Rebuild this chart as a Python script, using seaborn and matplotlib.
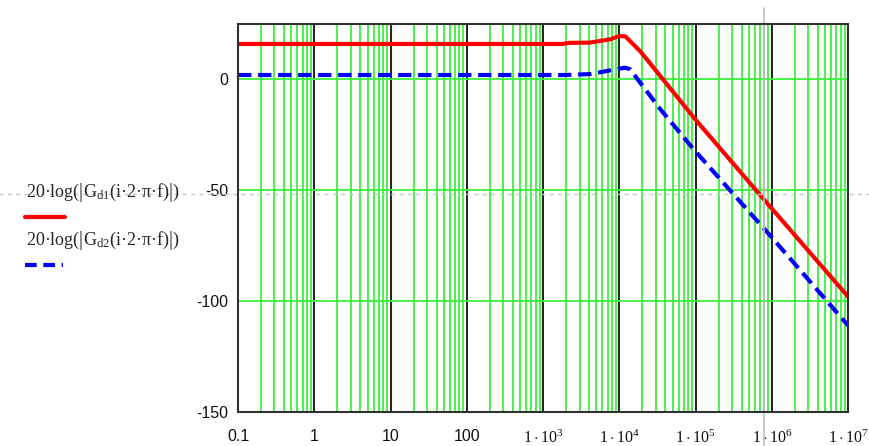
#!/usr/bin/env python3

# Bode magnitude plot of Gd1 and Gd2, Mathcad look.

import matplotlib
matplotlib.use("Agg")
import matplotlib.pyplot as plt
from matplotlib.lines import Line2D
import numpy as np
import pandas as pd
import seaborn as sns

# {{{ data
freq_d1 = [0.1, 1.8e3, 2.2e3, 4.1e3, 7.6e3, 1e4, 1.2e4, 1.9e4, 1e5, 1e6, 1e7]
mag_d1 = [16, 16, 16.5, 16.6, 18.1, 19.6, 19.4, 12.5, -18.2, -58.3, -98]

freq_d2 = [0.1, 2e3, 4.1e3, 7.6e3, 1.19e4, 1.38e4, 1.87e4, 3.42e4, 9.3e4, 1e6, 1e7]
mag_d2 = [2, 2, 2.4, 4.1, 5.3, 4.6, -1.4, -13.3, -31.3, -71.3, -111]

xticks = [0.1, 1, 10, 100, 1e3, 1e4, 1e5, 1e6, 1e7]
xticklabels = ["0.1", "1", "10", "100",
               r"$1\cdot10^{3}$", r"$1\cdot10^{4}$", r"$1\cdot10^{5}$",
               r"$1\cdot10^{6}$", r"$1\cdot10^{7}$"]
yticks = [-150, -100, -50, 0]
yticklabels = ["-150", "-100", "-50", "0"]

label_d1 = r"$\mathrm{20·log}\left(\left|\mathrm{G_{d1}(i·2·π·f)}\right|\right)$"
label_d2 = r"$\mathrm{20·log}\left(\left|\mathrm{G_{d2}(i·2·π·f)}\right|\right)$"

cursor_x = 7.9e5
cursor_y = -51.5
# }}}

sns.set_style("white")
plt.rcParams["font.family"] = ["Liberation Sans", "DejaVu Sans"]
plt.rcParams["mathtext.fontset"] = "custom"
plt.rcParams["mathtext.rm"] = "Liberation Serif"
plt.rcParams["mathtext.it"] = "Liberation Serif:italic"
plt.rcParams["mathtext.sf"] = "Liberation Sans"

GREEN = "#3cf03c"
RED = "#ff0000"
BLUE = "#0000ff"

fig = plt.figure(figsize=(8.69, 4.46), dpi=100)
ax = fig.add_axes([0.274, 0.0762, 0.702, 0.8700])

# grid: green minor verticals, black decade lines, green horizontals
ax.set_xscale("log")
ax.set_xlim(0.1, 1e7)
ax.set_ylim(-150, 25)
ax.xaxis.set_minor_locator(matplotlib.ticker.LogLocator(base=10, subs=np.arange(2, 10)))
ax.grid(which="minor", axis="x", color=GREEN, lw=1.3)
ax.grid(which="major", axis="x", color="#202020", lw=1.4)
ax.grid(which="major", axis="y", color=GREEN, lw=1.3)
ax.set_axisbelow(True)

df1 = pd.DataFrame({"f": freq_d1, "dB": mag_d1})
df2 = pd.DataFrame({"f": freq_d2, "dB": mag_d2})
sns.lineplot(data=df1, x="f", y="dB", ax=ax, color=RED, lw=3.0, sort=True)
sns.lineplot(data=df2, x="f", y="dB", ax=ax, color=BLUE, lw=3.0, sort=True)
ax.lines[-1].set_dashes((3.2, 1.6))

ax.set_xticks(xticks)
ax.set_xticklabels(xticklabels, fontsize=11.5)
ax.set_yticks(yticks)
ax.set_yticklabels(yticklabels, fontsize=11.5)
ax.tick_params(axis="both", which="both", length=0, colors="#111111")
ax.tick_params(axis="y", pad=7)
ax.tick_params(axis="x", pad=12)
ax.set_xlabel("")
ax.set_ylabel("")

for s in ax.spines.values():
    s.set_color("#303030")
    s.set_linewidth(1.5)

# trace cursors
ax.axvline(cursor_x, ymin=-0.1, ymax=1.04, color="#c0c0c0", lw=1.2, clip_on=False)
ax.axhline(cursor_y, xmin=-0.4, xmax=1.04, color="#c8c8c8", lw=1.0,
           ls=(0, (3, 3)), clip_on=False)

# Mathcad style legend at the left
fig.text(0.030, 1 - 193 / 446, label_d1, fontsize=13, va="center", ha="left")
fig.add_artist(Line2D([25 / 869, 65 / 869], [1 - 217 / 446] * 2, color=RED, lw=3.0))
fig.text(0.030, 1 - 241 / 446, label_d2, fontsize=13, va="center", ha="left")
fig.add_artist(Line2D([25 / 869, 63 / 869], [1 - 265 / 446] * 2, color=BLUE, lw=3.0,
                      dashes=(2.8, 1.6)))

plt.savefig("out.png", dpi=100)
plt.close()
